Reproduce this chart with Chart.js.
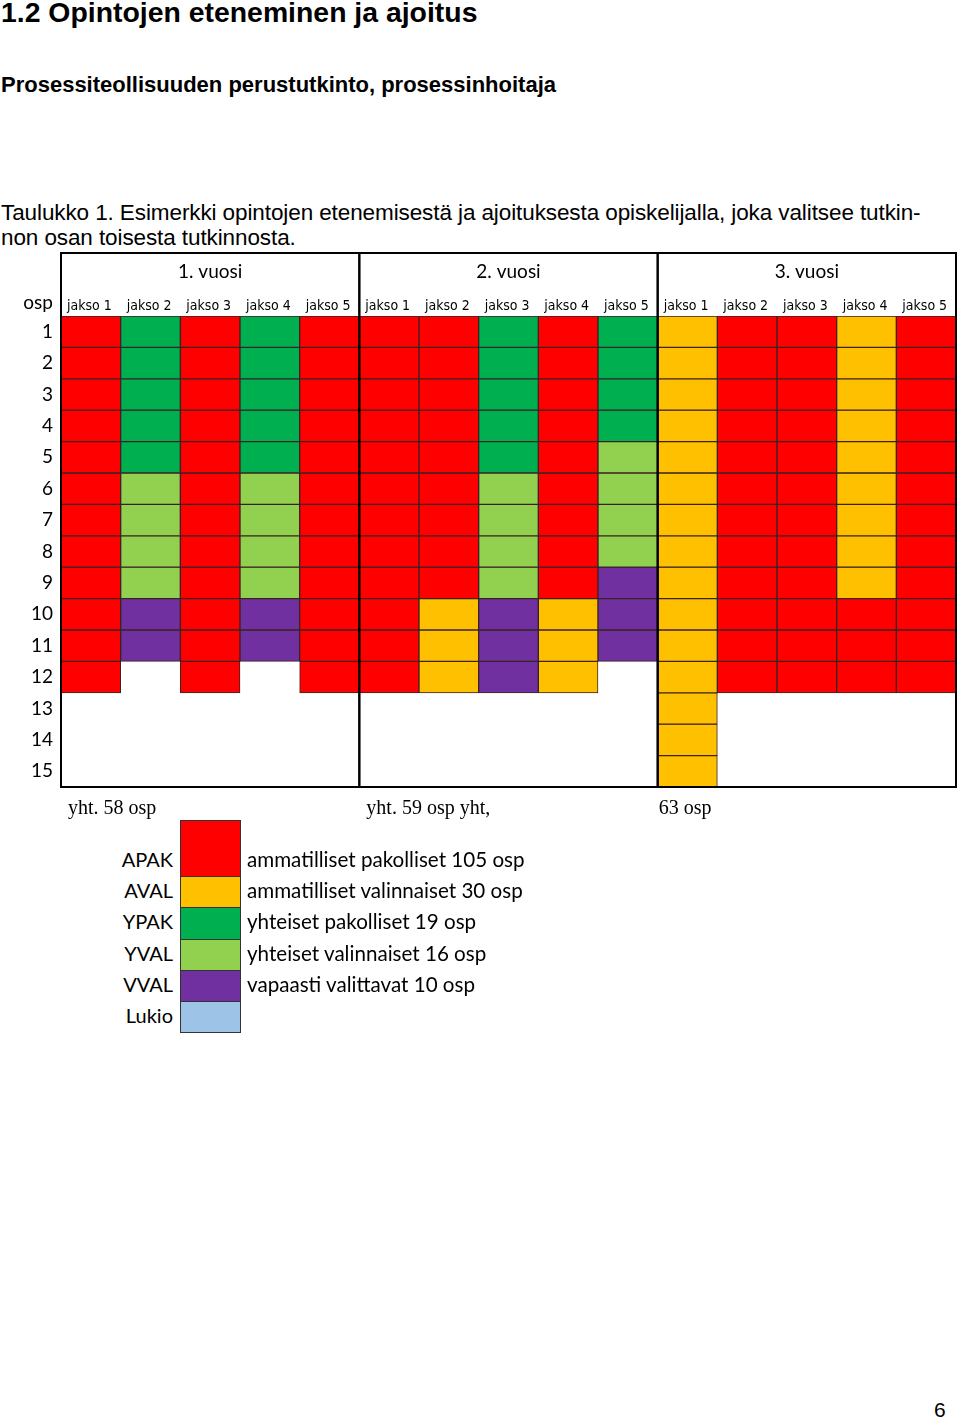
<!DOCTYPE html>
<html lang="fi">
<head>
<meta charset="utf-8">
<title>Opintojen eteneminen ja ajoitus</title>
<script src="https://cdn.jsdelivr.net/npm/chart.js@4/dist/chart.umd.min.js"></script>
<style>
  body { margin: 0; width: 960px; height: 1419px; position: relative; background: #fff; color: #000; }
  .txt { position: absolute; white-space: nowrap; font-family: 'Liberation Sans', Arial, sans-serif; }
  #otsikko { left: 1px; top: -4px; font-size: 28.4px; font-weight: bold; }
  #alaotsikko { left: 1px; top: 72px; font-size: 22px; font-weight: bold; }
  #taulukko { left: 1px; top: 200px; font-size: 22.5px; line-height: 25px; letter-spacing: -0.1px; }
  #sivu { left: 934px; top: 1398px; font-size: 21px; }
  #ajoitus { position: absolute; left: 0; top: 245px; }
  .sel-nimi { position: absolute; width: 120px; text-align: right; font-family: Lato, 'Open Sans', sans-serif; font-size: 20px; }
  .sel-laatikko { position: absolute; left: 180px; width: 59px; border: 1px solid #333; }
  .sel-kuvaus { position: absolute; left: 247px; font-family: Lato, 'Open Sans', sans-serif; font-size: 20.6px; white-space: nowrap; }
</style>
</head>
<body>
<div class="txt" id="otsikko">1.2 Opintojen eteneminen ja ajoitus</div>
<div class="txt" id="alaotsikko">Prosessiteollisuuden perustutkinto, prosessinhoitaja</div>
<div class="txt" id="taulukko">Taulukko 1. Esimerkki opintojen etenemisestä ja ajoituksesta opiskelijalla, joka valitsee tutkin-<br>non osan toisesta tutkinnosta.</div>
<canvas id="ajoitus" width="960" height="590"></canvas>
<div id="selite"></div>
<div class="txt" id="sivu">6</div>

<script>
  // otsikot ja akselit
  const vuodet = ['1. vuosi', '2. vuosi', '3. vuosi'];
  const jaksot = ['jakso 1', 'jakso 2', 'jakso 3', 'jakso 4', 'jakso 5',
                  'jakso 1', 'jakso 2', 'jakso 3', 'jakso 4', 'jakso 5',
                  'jakso 1', 'jakso 2', 'jakso 3', 'jakso 4', 'jakso 5'];
  const rivit = ['1', '2', '3', '4', '5', '6', '7', '8', '9', '10', '11', '12', '13', '14', '15'];
  const yhteensa = ['yht. 58 osp', 'yht. 59 osp yht,', '63 osp'];

  // osien tyypit
  const tyypit = ['APAK', 'AVAL', 'YPAK', 'YVAL', 'VVAL', 'Lukio'];
  const kuvaukset = ['ammatilliset pakolliset 105 osp', 'ammatilliset valinnaiset 30 osp',
                     'yhteiset pakolliset 19 osp', 'yhteiset valinnaiset 16 osp',
                     'vapaasti valittavat 10 osp', ''];
  const varit = ['#ff0000', '#ffc000', '#00b050', '#92d050', '#7030a0', '#9dc3e6'];

  // jokaisen jakson osat ylhäältä alas: [tyyppi, osp]
  const sarakkeet = [
    [['APAK', 12]],
    [['YPAK', 5], ['YVAL', 4], ['VVAL', 2]],
    [['APAK', 12]],
    [['YPAK', 5], ['YVAL', 4], ['VVAL', 2]],
    [['APAK', 12]],
    [['APAK', 12]],
    [['APAK', 9], ['AVAL', 3]],
    [['YPAK', 5], ['YVAL', 4], ['VVAL', 3]],
    [['APAK', 9], ['AVAL', 3]],
    [['YPAK', 4], ['YVAL', 4], ['VVAL', 3]],
    [['AVAL', 15]],
    [['APAK', 12]],
    [['APAK', 12]],
    [['AVAL', 9], ['APAK', 3]],
    [['APAK', 12]]
  ];

  // puretaan sarakkeet yhden osp:n soluiksi
  const solut = sarakkeet.map(s => {
    const lista = [];
    s.forEach(([tyyppi, osp]) => { for (let i = 0; i < osp; i++) lista.push(tyyppi); });
    return lista;
  });

  const datasets = rivit.map((r, ri) => ({
    label: 'rivi ' + r,
    data: solut.map(c => (c[ri] ? 1 : null)),
    backgroundColor: solut.map(c => (c[ri] ? varit[tyypit.indexOf(c[ri])] : 'transparent')),
    borderColor: '#3a2222',
    borderWidth: 1,
    borderSkipped: false,
    categoryPercentage: 1,
    barPercentage: 1
  }));

  const lohkoKoko = 5;
  const yhtSiirto = [7, 7, 1];

  const kehysPlugin = {
    id: 'kehys',
    afterDraw(chart) {
      const c = chart.ctx;
      const x = chart.scales.x, y = chart.scales.y;
      const leveys = (x.getPixelForValue(1) - x.getPixelForValue(0));
      const ylä = 8;
      const ala = y.getPixelForValue(15);
      c.save();

      // vuosien kehykset
      c.strokeStyle = '#000';
      c.lineWidth = 2;
      vuodet.forEach((v, i) => {
        const vasen = x.getPixelForValue(i * lohkoKoko) - leveys / 2;
        const oikea = x.getPixelForValue(i * lohkoKoko + lohkoKoko - 1) + leveys / 2;
        c.strokeRect(vasen, ylä, oikea - vasen, ala - ylä);

        c.fillStyle = '#000';
        c.font = '19px Lato, "Open Sans", sans-serif';
        c.textAlign = 'center';
        c.textBaseline = 'middle';
        c.fillText(v, (vasen + oikea) / 2, 27);

        c.font = '20px "Liberation Serif", "Times New Roman", serif';
        c.textAlign = 'left';
        c.fillText(yhteensa[i], vasen + yhtSiirto[i], 564);
      });

      // jaksojen nimet
      c.font = '14px "Liberation Sans Narrow", "DejaVu Sans Condensed", sans-serif';
      c.textAlign = 'left';
      c.textBaseline = 'middle';
      jaksot.forEach((j, i) => {
        c.fillText(j, x.getPixelForValue(i) - leveys / 2 + 6, 61);
      });

      // rivinumerot
      c.font = '19px Lato, "Open Sans", sans-serif';
      c.textAlign = 'right';
      c.fillText('osp', 53, 58);
      rivit.forEach((r, i) => {
        c.fillText(r, 53, y.getPixelForValue(i + 0.5));
      });
      c.restore();
    }
  };

  new Chart(document.getElementById('ajoitus').getContext('2d'), {
    type: 'bar',
    data: { labels: jaksot, datasets: datasets },
    options: {
      responsive: false,
      animation: false,
      devicePixelRatio: 1,
      layout: { padding: { left: 61, right: 4, top: 71, bottom: 48 } },
      plugins: { legend: { display: false }, tooltip: { enabled: false } },
      scales: {
        x: { stacked: true, display: false },
        y: { stacked: true, display: false, reverse: true, min: 0, max: 15 }
      }
    },
    plugins: [kehysPlugin]
  });

  // selite
  const selite = document.getElementById('selite');
  const riviKorkeus = 31.2;
  const alku = 845;
  tyypit.forEach((t, i) => {
    const top = alku + i * riviKorkeus;
    const nimi = document.createElement('div');
    nimi.className = 'sel-nimi';
    nimi.style.left = '53px';
    nimi.style.top = (top + 2) + 'px';
    nimi.textContent = t;
    selite.appendChild(nimi);

    const laatikko = document.createElement('div');
    laatikko.className = 'sel-laatikko';
    const ylaLisa = i === 0 ? 25 : 0;
    laatikko.style.top = (top - ylaLisa) + 'px';
    laatikko.style.height = (riviKorkeus - 1 + ylaLisa) + 'px';
    laatikko.style.background = varit[i];
    selite.appendChild(laatikko);

    const kuvaus = document.createElement('div');
    kuvaus.className = 'sel-kuvaus';
    kuvaus.style.top = (top + 2) + 'px';
    kuvaus.textContent = kuvaukset[i];
    selite.appendChild(kuvaus);
  });
</script>
</body>
</html>
